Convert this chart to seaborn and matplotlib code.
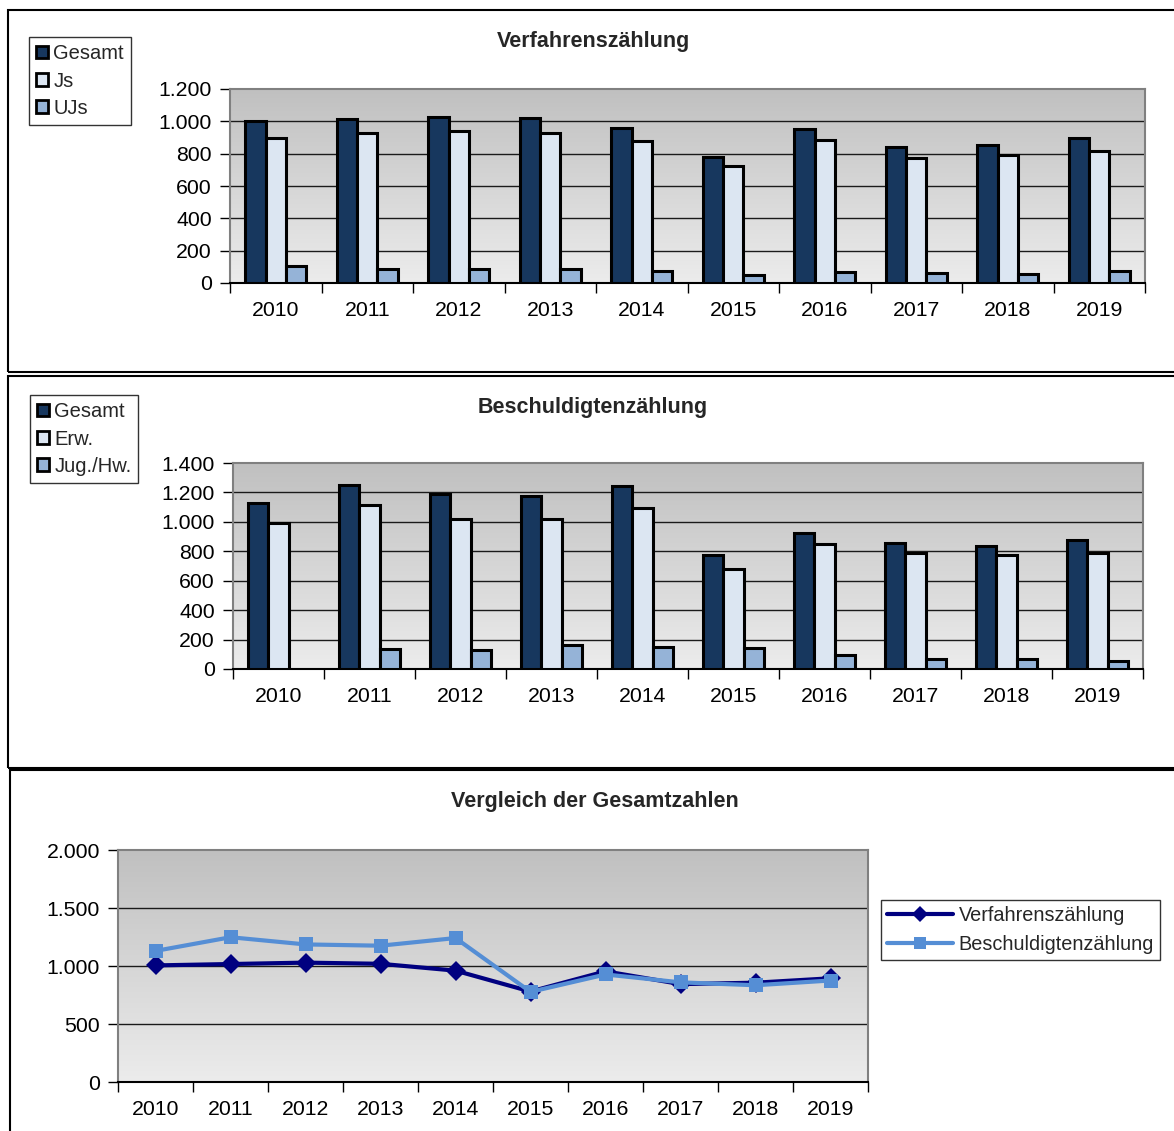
import numpy as np
import pandas as pd
import seaborn as sns
import matplotlib.pyplot as plt
from matplotlib.colors import LinearSegmentedColormap
from matplotlib.patches import Rectangle
from matplotlib.ticker import FuncFormatter, FixedLocator
from matplotlib.lines import Line2D

# data
years = ["2010", "2011", "2012", "2013", "2014", "2015", "2016", "2017", "2018", "2019"]

verf_gesamt = [1005, 1017, 1029, 1019, 960, 780, 954, 844, 856, 894]
verf_js = [896, 925, 940, 930, 881, 725, 884, 775, 790, 819]
verf_ujs = [108, 87, 87, 87, 77, 50, 66, 62, 58, 75]

besch_gesamt = [1130, 1248, 1186, 1175, 1241, 777, 927, 859, 834, 875]
besch_erw = [991, 1116, 1020, 1020, 1095, 677, 852, 789, 775, 789]
besch_jug = [0, 139, 130, 166, 152, 143, 93, 70, 68, 55]

bar_colors = ["#17375e", "#dce6f2", "#95b3d7"]
line_colors = ["#000080", "#558ed5"]

sns.set_theme(style="white")
plt.rcParams["font.family"] = ["Liberation Sans", "DejaVu Sans"]

W, H = 1174, 1131
fig = plt.figure(figsize=(W / 100, H / 100), dpi=100)

bg_cmap = LinearSegmentedColormap.from_list("bg", ["#ececec", "#c0c0c0"])
TICK_FS = 15.3


def fig_rect(x0, y0, x1, y1):
    return [x0 / W, 1 - y1 / H, (x1 - x0) / W, (y1 - y0) / H]


def thousands(v, pos=None):
    return f"{int(round(v)):,}".replace(",", ".")


def style_axes(ax, ymax, ystep):
    grad = np.linspace(0, 1, 256).reshape(-1, 1)
    ax.imshow(grad, cmap=bg_cmap, origin="lower", aspect="auto",
              extent=[0, 1, 0, 1], transform=ax.transAxes, zorder=0)
    ax.set_ylim(0, ymax)
    ax.set_xlim(-0.5, len(years) - 0.5)
    ticks = np.arange(0, ymax + 1, ystep)
    ax.yaxis.set_major_locator(FixedLocator(ticks))
    ax.yaxis.set_major_formatter(FuncFormatter(thousands))
    for t in ticks[1:-1]:
        ax.axhline(t, color="#1a1a1a", lw=1, zorder=1)
    ax.set_xticks(range(len(years)))
    ax.set_xticklabels(years)
    ax.set_xticks(np.arange(-0.5, len(years)), minor=True)
    ax.tick_params(axis="x", which="major", length=0, pad=13, labelsize=TICK_FS, colors="black")
    ax.tick_params(axis="x", which="minor", length=7, width=1, direction="out", color="black")
    ax.tick_params(axis="y", length=7, width=1, direction="out", pad=6, labelsize=TICK_FS,
                   color="black", labelcolor="black")
    ax.tick_params(bottom=True, left=True, which="both")
    for side in ["top", "right", "left"]:
        ax.spines[side].set_color("#808080")
        ax.spines[side].set_linewidth(1.5)
    ax.spines["bottom"].set_color("black")
    ax.spines["bottom"].set_linewidth(1.5)
    ax.set_xlabel("")
    ax.set_ylabel("")


def bar_panel(rect, values, names, ymax, title, title_y, legend_xy):
    ax = fig.add_axes(rect)
    df = pd.DataFrame({
        "Jahr": years * 3,
        "Wert": values[0] + values[1] + values[2],
        "Gruppe": [names[0]] * 10 + [names[1]] * 10 + [names[2]] * 10,
    })
    sns.barplot(data=df, x="Jahr", y="Wert", hue="Gruppe", palette=bar_colors,
                edgecolor="black", linewidth=2.2, width=0.67, saturation=1,
                legend=False, ax=ax, zorder=3)
    # hide zero-height bars (missing value)
    for p in ax.patches:
        if p.get_height() == 0:
            p.set_visible(False)
    style_axes(ax, ymax, 200)
    fig.text(593 / W, 1 - title_y / H, title, ha="center", va="center",
             fontsize=15.5, fontweight="bold")
    handles = [Rectangle((0, 0), 1, 1, facecolor=c, edgecolor="black", lw=2) for c in bar_colors]
    leg = ax.legend(handles, names, loc="upper left",
                    bbox_to_anchor=(legend_xy[0] / W, 1 - legend_xy[1] / H),
                    bbox_transform=fig.transFigure, fontsize=14.5, frameon=True,
                    fancybox=False, handlelength=0.6, handleheight=0.6,
                    handletextpad=0.25, labelspacing=0.42, borderpad=0.35,
                    borderaxespad=0)
    leg.get_frame().set_edgecolor("black")
    leg.get_frame().set_linewidth(1)
    return ax


# panel borders
fig.patches.append(Rectangle((8 / W, 1 - 372 / H), 1.0, 362 / H, transform=fig.transFigure,
                             fill=False, edgecolor="black", lw=1.5))
fig.patches.append(Rectangle((8 / W, 1 - 768 / H), 1.0, 392 / H, transform=fig.transFigure,
                             fill=False, edgecolor="black", lw=1.5))
fig.patches.append(Rectangle((10 / W, -0.05), 1.0, 1 - 770 / H + 0.05, transform=fig.transFigure,
                             fill=False, edgecolor="black", lw=1.5))

bar_panel(fig_rect(230, 89, 1145, 283), [verf_gesamt, verf_js, verf_ujs],
          ["Gesamt", "Js", "UJs"], 1200, "Verfahrenszählung", 42, (29, 37))
bar_panel(fig_rect(233, 463, 1143, 669), [besch_gesamt, besch_erw, besch_jug],
          ["Gesamt", "Erw.", "Jug./Hw."], 1400, "Beschuldigtenzählung", 408, (30, 395))

# comparison line chart
ax3 = fig.add_axes(fig_rect(118, 850, 868, 1082))
line_df = pd.DataFrame({
    "Jahr": years * 2,
    "Wert": verf_gesamt + besch_gesamt,
    "Reihe": ["Verfahrenszählung"] * 10 + ["Beschuldigtenzählung"] * 10,
})
sns.lineplot(data=line_df, x="Jahr", y="Wert", hue="Reihe", style="Reihe",
             markers=["D", "s"], dashes=False, palette=line_colors, linewidth=3,
             markersize=10, markeredgewidth=0, legend=False, ax=ax3, zorder=4)
style_axes(ax3, 2000, 500)
fig.text(595 / W, 1 - 801 / H, "Vergleich der Gesamtzahlen", ha="center", va="center",
         fontsize=15.5, fontweight="bold")
line_handles = [
    Line2D([], [], color=line_colors[0], lw=3, marker="D", markersize=8, markeredgewidth=0),
    Line2D([], [], color=line_colors[1], lw=3, marker="s", markersize=9, markeredgewidth=0),
]
leg3 = ax3.legend(line_handles, ["Verfahrenszählung", "Beschuldigtenzählung"],
                  loc="upper left", bbox_to_anchor=(881 / W, 1 - 900 / H),
                  bbox_transform=fig.transFigure, fontsize=14.3, frameon=True,
                  fancybox=False, handlelength=3.3, handletextpad=0.3,
                  labelspacing=0.5, borderpad=0.3, borderaxespad=0)
leg3.get_frame().set_edgecolor("black")
leg3.get_frame().set_linewidth(1)

fig.savefig("out.png", dpi=100, facecolor="white")
